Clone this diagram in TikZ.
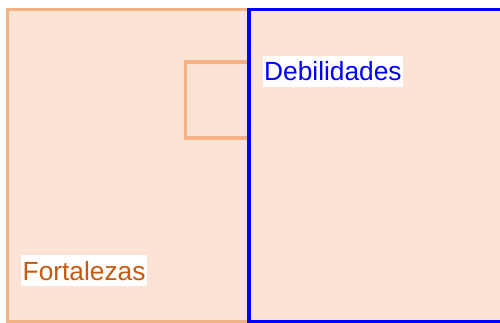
\documentclass[tikz,border=0pt]{standalone}
\usepackage{fontspec}
\setmainfont{Liberation Sans}
\usepackage{tikz}
\usetikzlibrary{positioning}
\definecolor{peach}{HTML}{FBE4D6}
\definecolor{peachline}{HTML}{F4B183}
\definecolor{rust}{HTML}{C55A11}
\tikzset{
	labelbox/.style={fill=white, inner xsep=1.5pt, inner ysep=0pt, text height=25pt, text depth=6pt, font=\fontsize{26.3}{30}\selectfont},
}

\begin{document}
\begin{tikzpicture}[x=1pt, y=-1pt]
		\useasboundingbox (0,0) rectangle (500,323);
		\clip (0,0) rectangle (500,323);
			%corners
			\coordinate (fortTL) at (7.5,9.5);
			\coordinate (fortBR) at (249,322);
			\coordinate (debTL) at (249,9.5);
			\coordinate (debBR) at (506,322);

			%fortalezas
			\filldraw[fill=peach, draw=peachline, line width=3.1pt] (fortTL) rectangle (fortBR);
			\draw[peachline, line width=3.1pt] (185.5,62) rectangle (fortBR |- 0,138);

			%debilidades
			\filldraw[fill=peach, draw=blue, line width=3.1pt] (debTL) rectangle (debBR);
			\draw[peachline, line width=3.1pt] (185.5,62) -- (247.5,62);
			\draw[peachline, line width=3.1pt] (185.5,138) -- (247.5,138);
			\draw[blue, line width=3.1pt] (debTL) -- (debTL |- debBR);

			%labels
			\node[labelbox, text=blue, anchor=base west] (deb) at (262.5,81) {Debilidades};
			\node[labelbox, text=rust, anchor=base west] (fort) at (21,280) {Fortalezas};
	\end{tikzpicture}
\end{document}
